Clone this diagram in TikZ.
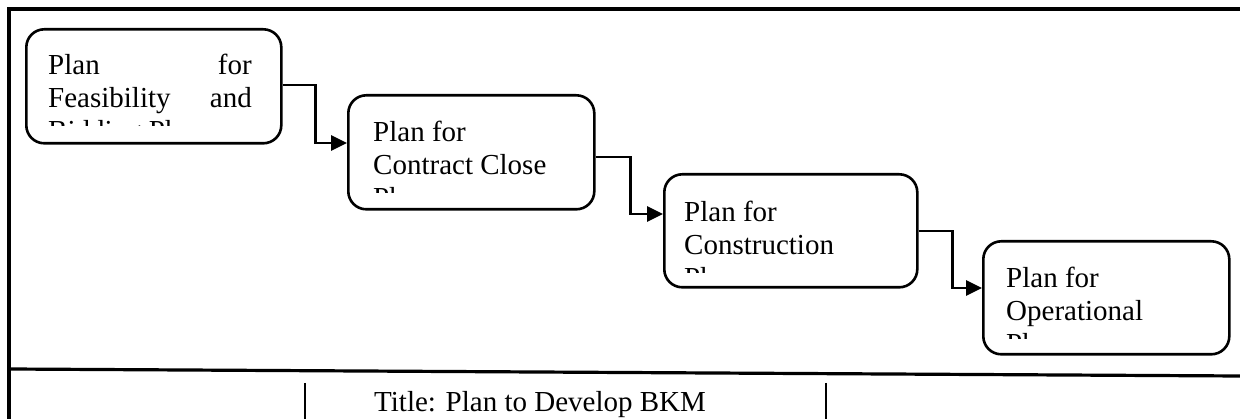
\documentclass[tikz,border=0pt]{standalone}
\usepackage{fontspec}
\setmainfont{Liberation Serif}
\usetikzlibrary{arrows.meta}
\tikzset{
  stage/.style={draw=black, line width=2.6pt, rounded corners=18pt, rectangle, inner sep=0pt, anchor=north west},
  txt/.style={inner sep=0pt, font=\fontsize{29}{33}\selectfont},
  flow/.style={line width=2.8pt, -{Triangle[length=16pt,width=15pt]}},
  frame/.style={line width=3.2pt},
  divider/.style={line width=1.8pt}
}
\begin{document}
\begin{tikzpicture}[x=1pt,y=-1pt]
\useasboundingbox (0,0) rectangle (1240,419);
% frame
\draw[frame] (9,419) -- (9,9) -- (1240,9);
\draw[frame] (9,369) -- (1240,376);
\draw[divider] (305,383) -- (305,419);
\draw[divider] (826,383) -- (826,419);
% boxes
\node[stage, minimum width=255pt, minimum height=114pt] (b1) at (25,28) {};
\node[stage, minimum width=246pt, minimum height=114pt] (b2) at (347,94) {};
\node[stage, minimum width=253pt, minimum height=113pt] (b3) at (663,173) {};
\node[stage, minimum width=246pt, minimum height=113pt] (b4) at (982,240) {};
% texts (clipped inside boxes)
\begin{scope}
\clip (27,30) rectangle (278,126);
\node[txt, anchor=base west] (t1a) at (48,75) {Plan};
\node[txt, anchor=base east] (t1b) at (252,75) {for};
\node[txt, anchor=base west] (t1c) at (48,108) {Feasibility};
\node[txt, anchor=base east] (t1d) at (252,108) {and};
\node[txt, anchor=base west] (t1e) at (48,141) {Bidding Phase};
\end{scope}
\begin{scope}
\clip (349,96) rectangle (591,193);
\node[txt, anchor=base west] (t2a) at (373,142) {Plan for};
\node[txt, anchor=base west] (t2b) at (373,175) {Contract Close};
\node[txt, anchor=base west] (t2c) at (373,208) {Phase};
\end{scope}
\begin{scope}
\clip (665,175) rectangle (914,273);
\node[txt, anchor=base west] (t3a) at (684,222) {Plan for};
\node[txt, anchor=base west] (t3b) at (684,255) {Construction};
\node[txt, anchor=base west] (t3c) at (684,288) {Phase};
\end{scope}
\begin{scope}
\clip (984,242) rectangle (1226,339);
\node[txt, anchor=base west] (t4a) at (1006,288) {Plan for};
\node[txt, anchor=base west] (t4b) at (1006,321) {Operational};
\node[txt, anchor=base west] (t4c) at (1006,354) {Phase};
\end{scope}
% connectors
\draw[flow] ([yshift=-57pt]b1.north east) -- ++(33,0) |- ([yshift=-49pt]b2.north west);
\draw[flow] ([yshift=-63pt]b2.north east) -- ++(35,0) |- ([yshift=-41pt]b3.north west);
\draw[flow] ([yshift=-58pt]b3.north east) -- ++(34,0) |- ([yshift=-48pt]b4.north west);
% title
\node[txt, anchor=base west] (title) at (374,412) {Title: Plan to Develop BKM};
\end{tikzpicture}
\end{document}
